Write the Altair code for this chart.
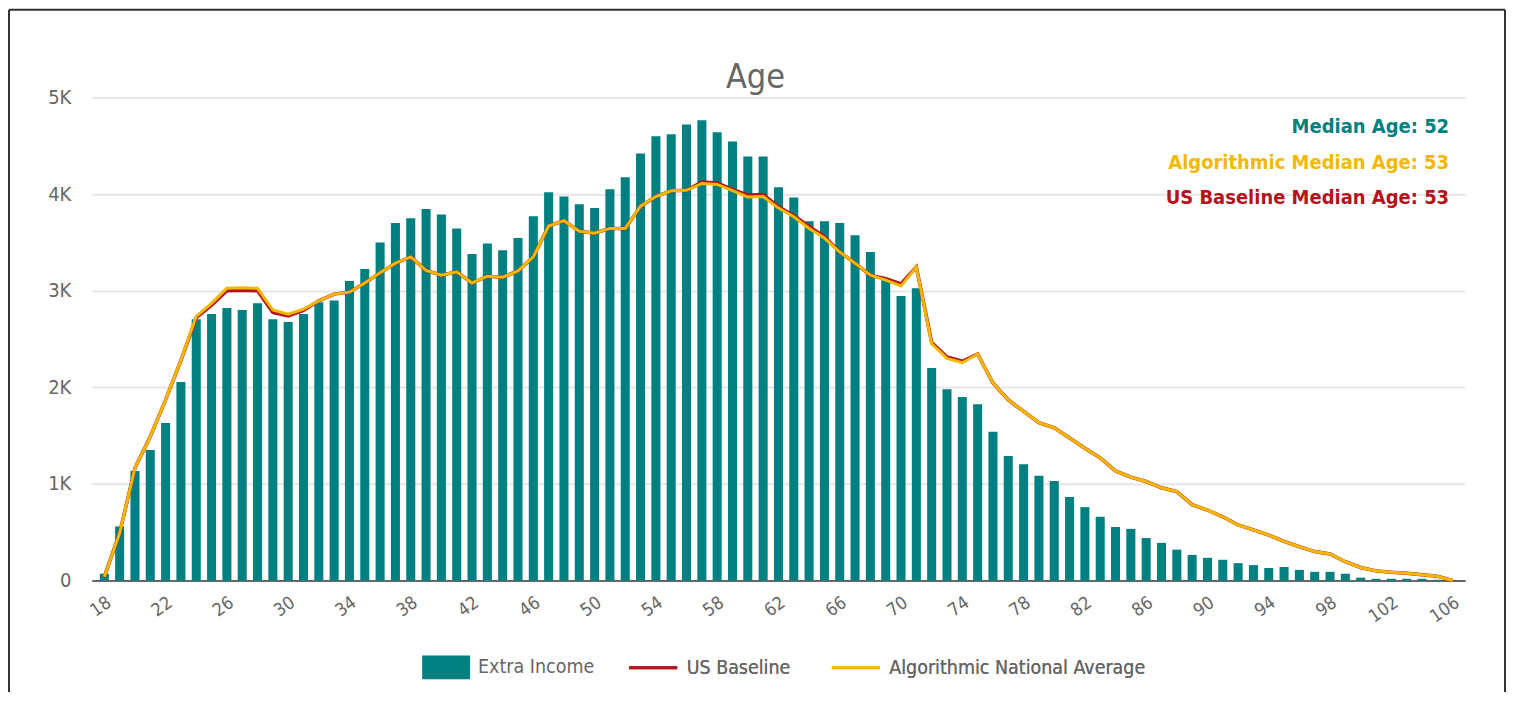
import altair as alt
import pandas as pd

# ---------------- data ----------------
ages = list(range(18, 107))

extra_income = [
    70, 560, 1135, 1350, 1630, 2055, 2705, 2760, 2820, 2800,      # 18-27
    2870, 2705, 2675, 2760, 2880, 2900, 3100, 3225, 3500, 3700,   # 28-37
    3750, 3845, 3790, 3645, 3380, 3490, 3420, 3545, 3770, 4020,   # 38-47
    3975, 3895, 3855, 4050, 4175, 4420, 4600, 4620, 4720, 4765,   # 48-57
    4640, 4545, 4390, 4390, 4070, 3965, 3720, 3720, 3700, 3575,   # 58-67
    3400, 3130, 2945, 3025, 2200, 1980, 1900, 1825, 1540, 1290,   # 68-77
    1205, 1085, 1030, 865, 760, 660, 555, 535, 440, 390,          # 78-87
    320, 265, 235, 215, 180, 160, 130, 140, 110, 90,              # 88-97
    90, 70, 30, 18, 18, 18, 18, 8, 3,                             # 98-106
]

algorithmic = [
    40, 490, 1165, 1490, 1870, 2280, 2735, 2870, 3025, 3030,      # 18-27
    3025, 2800, 2758, 2810, 2895, 2965, 2985, 3080, 3185, 3285,   # 28-37
    3350, 3210, 3160, 3195, 3080, 3150, 3140, 3205, 3350, 3670,   # 38-47
    3725, 3615, 3595, 3645, 3645, 3875, 3975, 4035, 4040, 4110,   # 48-57
    4100, 4035, 3970, 3975, 3855, 3765, 3645, 3545, 3400, 3285,   # 58-67
    3160, 3110, 3050, 3245, 2450, 2300, 2255, 2345, 2045, 1870,   # 68-77
    1750, 1635, 1580, 1475, 1370, 1270, 1135, 1070, 1025, 960,    # 78-87
    920, 785, 730, 660, 575, 525, 470, 405, 350, 300,             # 88-97
    275, 195, 135, 100, 85, 75, 60, 45, 0,                        # 98-106
]

us_baseline = [
    40, 490, 1165, 1490, 1870, 2280, 2720, 2850, 3000, 3005,      # 18-27
    3000, 2775, 2740, 2795, 2895, 2965, 2985, 3080, 3185, 3285,   # 28-37
    3350, 3210, 3160, 3195, 3080, 3150, 3140, 3205, 3350, 3670,   # 38-47
    3725, 3615, 3595, 3645, 3645, 3875, 3975, 4035, 4040, 4125,   # 48-57
    4115, 4050, 3990, 3995, 3870, 3780, 3665, 3560, 3400, 3285,   # 58-67
    3160, 3125, 3070, 3245, 2465, 2315, 2270, 2345, 2045, 1870,   # 68-77
    1750, 1635, 1580, 1475, 1370, 1270, 1135, 1070, 1025, 960,    # 78-87
    920, 785, 730, 660, 575, 525, 470, 405, 350, 300,             # 88-97
    275, 195, 135, 100, 85, 75, 60, 45, 0,                        # 98-106
]

bar_name = "Extra Income"
line_names = ["US Baseline", "Algorithmic National Average"]
bar_color = "#008080"
line_colors = ["#B5121B", "#F5B800"]

x_tick_values = list(range(18, 107, 4))
y_tick_values = [0, 1000, 2000, 3000, 4000, 5000]

title_text = "Age"
annotations = [
    ("Median Age: 52", "#008080"),
    ("Algorithmic Median Age: 53", "#F5B800"),
    ("US Baseline Median Age: 53", "#B5121B"),
]

# ---------------- styling ----------------
FONT = "'Liberation Sans Narrow', 'DejaVu Sans Condensed', 'Roboto Condensed', sans-serif"
GREY = "#666666"
W, H = 1376, 484

bars_df = pd.DataFrame({"age": ages, "value": extra_income, "series": bar_name})
base_df = pd.DataFrame({"age": ages, "value": us_baseline, "series": line_names[0]})
algo_df = pd.DataFrame({"age": ages, "value": algorithmic, "series": line_names[1]})

x_enc = alt.X(
    "age:O",
    title=None,
    sort=ages,
    scale=alt.Scale(paddingInner=0.41, paddingOuter=0.52),
    axis=alt.Axis(
        values=x_tick_values,
        labelAngle=-35,
        labelFontSize=18,
        labelColor=GREY,
        labelFont=FONT,
        labelPadding=13,
        ticks=False,
        domainColor=GREY,
        domainWidth=2,
        grid=False,
    ),
)

y_enc = alt.Y(
    "value:Q",
    title=None,
    scale=alt.Scale(domain=[0, 5000], nice=False),
    axis=alt.Axis(
        values=y_tick_values,
        labelExpr="datum.value == 0 ? '0' : (datum.value / 1000) + 'K'",
        labelFontSize=20,
        labelColor=GREY,
        labelFont=FONT,
        labelPadding=21,
        ticks=False,
        domain=False,
        gridColor="#E6E6E6",
        gridWidth=2,
    ),
)

legend_common = dict(
    title=None,
    orient="none",
    direction="horizontal",
    symbolSize=2304,
    labelFontSize=19.5,
    labelFont=FONT,
    labelColor=GREY,
    labelOffset=8,
    labelLimit=0,
    columnPadding=35,
)

fill_enc = alt.Fill(
    "series:N",
    scale=alt.Scale(domain=[bar_name], range=[bar_color]),
    legend=alt.Legend(legendX=331, legendY=547,
                      symbolType="M-1,-0.5H1V0.5H-1Z", symbolOpacity=1,
                      symbolStrokeWidth=0, **legend_common),
)
stroke_enc = alt.Stroke(
    "series:N",
    scale=alt.Scale(domain=line_names, range=line_colors),
    legend=alt.Legend(legendX=537, legendY=546,
                      symbolType="M-1,0H1", symbolStrokeWidth=3,
                      **legend_common),
)

bars = alt.Chart(bars_df).mark_bar().encode(x=x_enc, y=y_enc, fill=fill_enc)
red_line = alt.Chart(base_df).mark_line(strokeWidth=3.5).encode(x=x_enc, y=y_enc, stroke=stroke_enc)
yellow_line = alt.Chart(algo_df).mark_line(strokeWidth=3).encode(x=x_enc, y=y_enc, stroke=stroke_enc)

layers = [bars, red_line, yellow_line]

# chart title
layers.append(
    alt.Chart(alt.Data(values=[{"t": title_text}]))
    .mark_text(align="center", baseline="alphabetic", font=FONT, fontSize=34,
               color=GREY)
    .encode(text="t:N", x=alt.value(665), y=alt.value(-10))
)

ann_y = [30, 66, 101]
for (txt, col), yy in zip(annotations, ann_y):
    layers.append(
        alt.Chart(alt.Data(values=[{"t": txt}]))
        .mark_text(align="right", baseline="middle", font=FONT, fontSize=20,
                   fontWeight="bold", color=col)
        .encode(text="t:N", x=alt.value(1360), y=alt.value(yy))
    )

# outer frame (left, top, right)
frame = alt.Data(values=[{}])
layers.append(alt.Chart(frame).mark_rule(color="#333333", strokeWidth=2)
              .encode(x=alt.value(-83), y=alt.value(-88), y2=alt.value(620)))
layers.append(alt.Chart(frame).mark_rule(color="#333333", strokeWidth=2)
              .encode(x=alt.value(-83), x2=alt.value(1416), y=alt.value(-88)))
layers.append(alt.Chart(frame).mark_rule(color="#333333", strokeWidth=2)
              .encode(x=alt.value(1416), y=alt.value(-88), y2=alt.value(620)))

chart = (
    alt.layer(*layers)
    .resolve_legend(fill="independent", stroke="independent")
    .properties(
        width=W,
        height=H,
        autosize=alt.AutoSizeParams(type="none"),
        padding={"left": 84, "top": 89, "right": 42, "bottom": 111},
        background="white",
    )
    .configure_view(stroke=None)
)

chart.save("out.html", embed_options={"renderer": "svg", "actions": False})
